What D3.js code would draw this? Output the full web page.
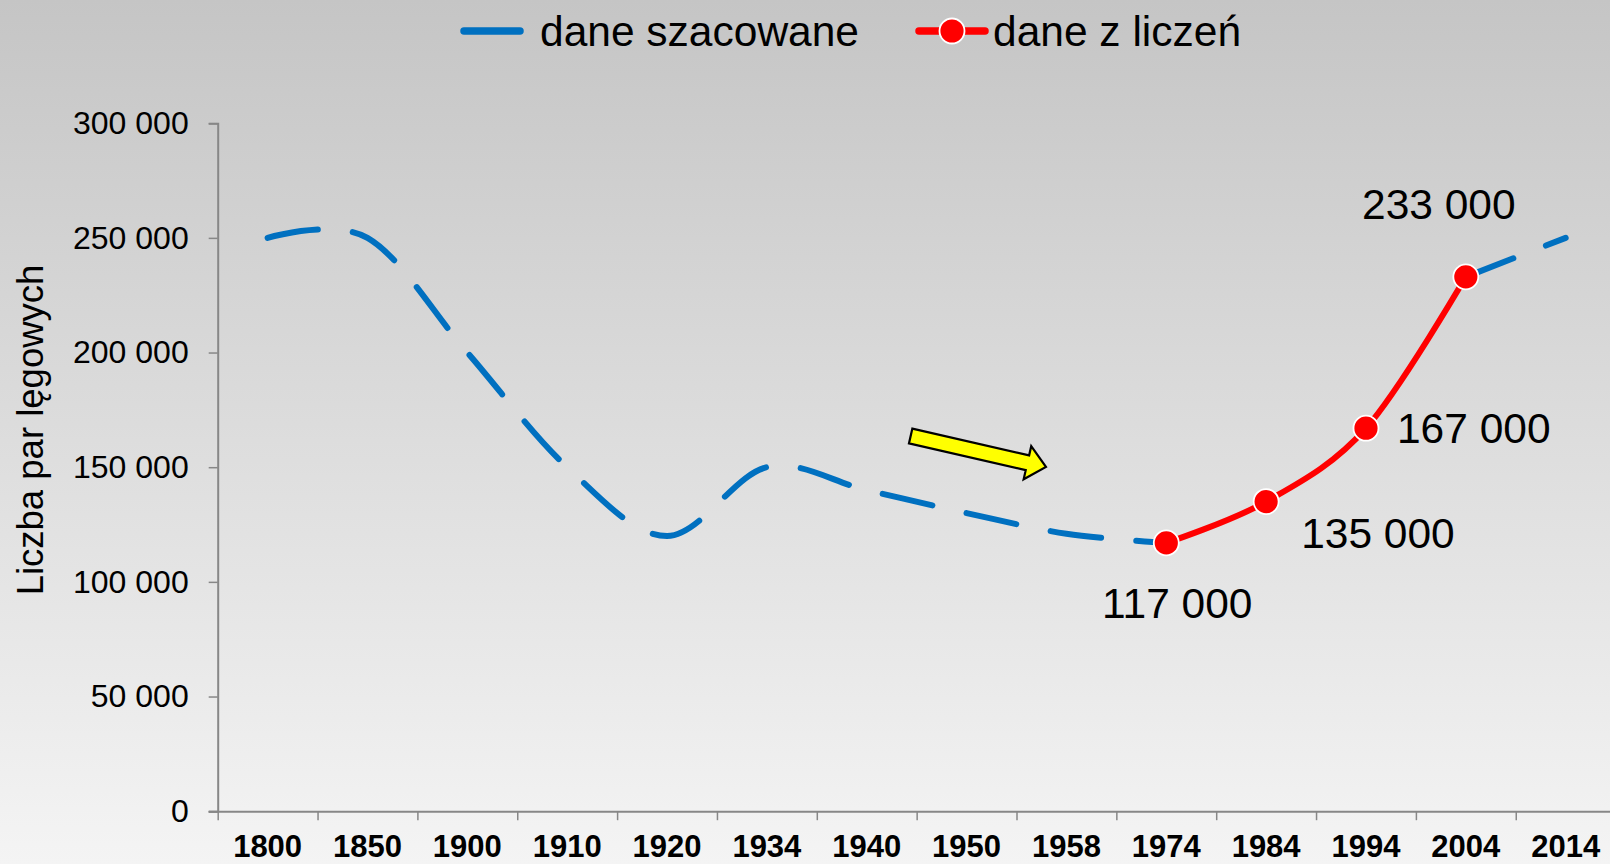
<!DOCTYPE html>
<html>
<head>
<meta charset="utf-8">
<script src="https://cdn.jsdelivr.net/npm/d3@7"></script>
<style>
  html, body { margin: 0; padding: 0; overflow: hidden; }
  svg { display: block; }
  text { font-family: "Liberation Sans", Arial, sans-serif; fill: #000; }
</style>
</head>
<body>
<script>
// ---------- data ----------
const categories = ["1800","1850","1900","1910","1920","1934","1940","1950","1958","1974","1984","1994","2004","2014"];
const estimated  = [250000,250000,200000,150000,120000,150000,140000,130000,121000,117000,null,null,233000,250000];
const counted    = [null,null,null,null,null,null,null,null,null,117000,135000,167000,233000,null];
const yTicks     = [0,50000,100000,150000,200000,250000,300000];
const seriesNames = ["dane szacowane","dane z liczeń"];
const yTitle = "Liczba par lęgowych";

// ---------- layout ----------
const W = 1610, H = 864;
const plot = { left: 217.7, right: 1615.6, top: 123.2, bottom: 811.2 };
const blue = "#0070C0", red = "#FF0000", axisCol = "#878787";

const svg = d3.select("body").append("svg").attr("width", W).attr("height", H);

const defs = svg.append("defs");
const grad = defs.append("linearGradient").attr("id","bg").attr("x1",0).attr("y1",0).attr("x2",0).attr("y2",1);
grad.append("stop").attr("offset","0%").attr("stop-color","#c5c5c5");
grad.append("stop").attr("offset","100%").attr("stop-color","#f4f4f4");
svg.append("rect").attr("width",W).attr("height",H).attr("fill","url(#bg)");

const xi = d3.scaleLinear().domain([0, categories.length]).range([plot.left, plot.right]);
const xc = i => xi(i + 0.5);
const y = d3.scaleLinear().domain([0, 300000]).range([plot.bottom, plot.top]);

const fmt = v => d3.format(",")(v).replace(/,/g, " ");

// ---------- axes ----------
const yAxis = d3.axisLeft(y).tickValues(yTicks).tickSize(9).tickPadding(20).tickFormat(fmt);
const gy = svg.append("g").attr("transform", `translate(${plot.left},0)`).call(yAxis);
gy.select(".domain").attr("stroke", axisCol).attr("stroke-width", 2);
gy.selectAll(".tick line").attr("stroke", axisCol).attr("stroke-width", 1.5);
gy.selectAll(".tick text").attr("font-size", 32).attr("font-family", "Liberation Sans, Arial, sans-serif").attr("fill","#000");

const xAxis = d3.axisBottom(xi).tickValues(d3.range(0, categories.length + 1)).tickSize(9).tickFormat("");
const gx = svg.append("g").attr("transform", `translate(0,${plot.bottom})`).call(xAxis);
gx.select(".domain").attr("stroke", axisCol).attr("stroke-width", 2).attr("d", `M${plot.left-9},0.5H${plot.right}`);
gx.selectAll(".tick line").attr("stroke", axisCol).attr("stroke-width", 1.5);

svg.append("g").selectAll("text").data(categories).join("text")
  .attr("x", (d,i) => xc(i)).attr("y", 856.5)
  .attr("text-anchor","middle").attr("font-size", 31).attr("font-weight","bold")
  .text(d => d);

svg.append("text")
  .attr("transform", `translate(30,430) rotate(-90)`)
  .attr("text-anchor","middle").attr("dominant-baseline","central")
  .attr("font-size", 36.5).text(yTitle);

// ---------- lines ----------
const curve = d3.curveCatmullRom.alpha(0);
const lineGen = d3.line().defined(d => d.v != null).x(d => xc(d.i)).y(d => y(d.v)).curve(curve);

const estData = estimated.map((v,i) => ({i, v}));
const cntData = counted.map((v,i) => ({i, v}));

svg.append("path").datum(estData).attr("d", lineGen)
  .attr("fill","none").attr("stroke", blue).attr("stroke-width", 6)
  .attr("stroke-linecap","round").attr("stroke-dasharray","51 35");

svg.append("path").datum(cntData).attr("d", lineGen)
  .attr("fill","none").attr("stroke", red).attr("stroke-width", 6);

svg.append("g").selectAll("circle").data(cntData.filter(d => d.v != null)).join("circle")
  .attr("cx", d => xc(d.i)).attr("cy", d => y(d.v)).attr("r", 12.5)
  .attr("fill", red).attr("stroke", "#fff").attr("stroke-width", 1.8);

// data labels (offsets relative to each point)
const labelOffsets = [
  {dx: 11,  dy: 75,  anchor: "middle"},
  {dx: 35,  dy: 46,  anchor: "start"},
  {dx: 31,  dy: 15,  anchor: "start"},
  {dx: -27, dy: -58, anchor: "middle"}
];
const pts = cntData.filter(d => d.v != null);
svg.append("g").selectAll("text").data(pts).join("text")
  .attr("x", (d,k) => xc(d.i) + labelOffsets[k].dx)
  .attr("y", (d,k) => y(d.v) + labelOffsets[k].dy)
  .attr("text-anchor", (d,k) => labelOffsets[k].anchor)
  .attr("font-size", 42.5).text(d => fmt(d.v));

// ---------- arrow annotation ----------
const aFrom = [xi(6.94), y(163600)], aTo = [xi(8.295), y(150100)];
const L = Math.hypot(aTo[0]-aFrom[0], aTo[1]-aFrom[1]);
const ang = Math.atan2(aTo[1]-aFrom[1], aTo[0]-aFrom[0]) * 180 / Math.PI;
const bw = 7.6, hw = 17, hl = 19;
svg.append("path")
  .attr("transform", `translate(${aFrom[0]},${aFrom[1]}) rotate(${ang})`)
  .attr("d", `M0,${-bw}L${L-hl},${-bw}L${L-hl},${-hw}L${L},0L${L-hl},${hw}L${L-hl},${bw}L0,${bw}Z`)
  .attr("fill", "#FFFF00").attr("stroke", "#000").attr("stroke-width", 2.2).attr("stroke-linejoin","miter");

// ---------- legend ----------
const lg = svg.append("g");
lg.append("line").attr("x1", 464).attr("x2", 520).attr("y1", 31).attr("y2", 31)
  .attr("stroke", blue).attr("stroke-width", 7.5).attr("stroke-linecap","round");
lg.append("text").attr("x", 540).attr("y", 45.5).attr("font-size", 42.5).text(seriesNames[0]);
lg.append("line").attr("x1", 919).attr("x2", 985).attr("y1", 31).attr("y2", 31)
  .attr("stroke", red).attr("stroke-width", 7.5).attr("stroke-linecap","round");
lg.append("circle").attr("cx", 952).attr("cy", 31).attr("r", 12.5)
  .attr("fill", red).attr("stroke","#fff").attr("stroke-width",1.8);
lg.append("text").attr("x", 993).attr("y", 45.5).attr("font-size", 42.5).text(seriesNames[1]);
</script>
</body>
</html>
